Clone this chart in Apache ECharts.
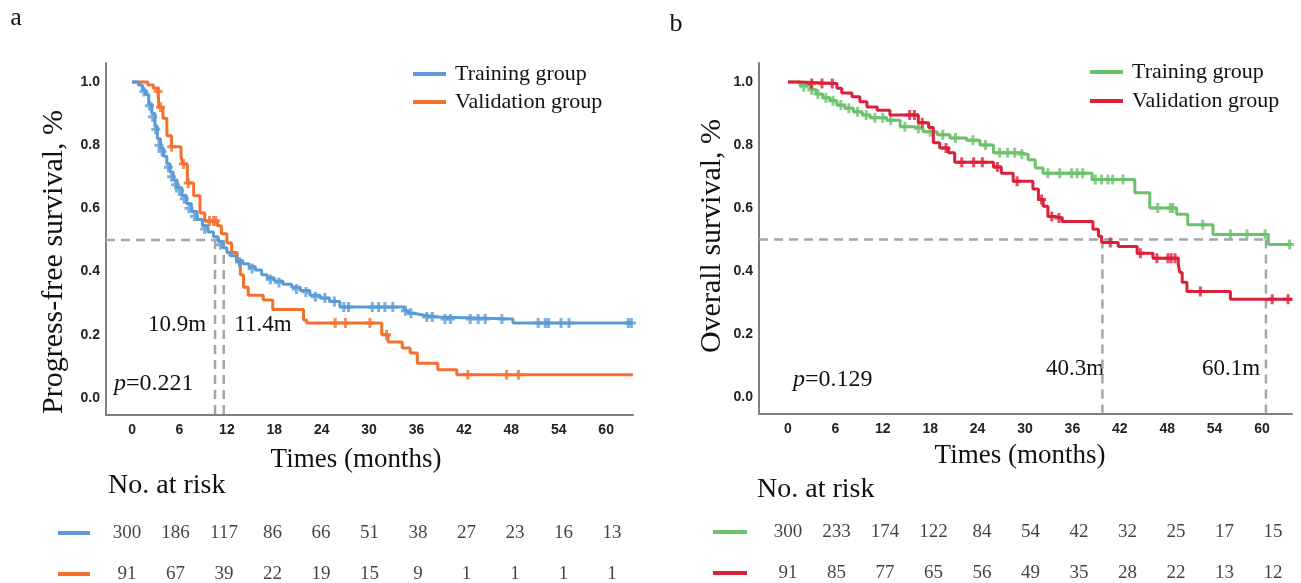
<!DOCTYPE html>
<html>
<head>
<meta charset="utf-8">
<script src="https://cdn.jsdelivr.net/npm/echarts@6/dist/echarts.min.js"></script>
<style>
  html, body { margin: 0; background: #fff; }
  #chart { width: 1301px; height: 583px; }
</style>
</head>
<body>
<div id="chart"></div>
<script>
// ---- data ----
const months = [0, 6, 12, 18, 24, 30, 36, 42, 48, 54, 60];
const yTicks = [0, 0.2, 0.4, 0.6, 0.8, 1.0];

// Kaplan-Meier steps: [month, survival after the step]
const pfsTraining = [[0,1],[0.8,0.99],[1.3,0.975],[1.7,0.96],[2.1,0.93],[2.5,0.9],[2.9,0.86],[3.2,0.82],
  [3.6,0.79],[4.0,0.765],[4.4,0.74],[4.8,0.715],[5.2,0.69],[5.7,0.665],[6.3,0.64],[6.9,0.615],[7.5,0.59],
  [8.2,0.565],[8.9,0.545],[9.6,0.525],[10.3,0.51],[10.9,0.495],[11.5,0.475],[12.0,0.46],[12.4,0.45],
  [13.2,0.435],[14.0,0.425],[14.8,0.415],[15.6,0.405],[16.4,0.39],[17.1,0.38],[18.0,0.37],[19.1,0.36],
  [20.2,0.35],[21.3,0.34],[22.5,0.325],[23.8,0.316],[25.0,0.305],[26.3,0.288],[34.5,0.276],[35.0,0.268],
  [35.6,0.262],[37.0,0.256],[38.8,0.25],[48.2,0.237],[63.3,0.237]];
const pfsValidation = [[0,1],[2.0,0.99],[2.7,0.98],[3.3,0.97],[3.4,0.92],[3.9,0.885],[4.4,0.83],[5.0,0.795],
  [6.2,0.765],[6.4,0.74],[7.0,0.68],[7.8,0.64],[8.6,0.585],[9.2,0.56],[10.8,0.545],[11.3,0.52],[12.0,0.49],
  [12.6,0.46],[13.3,0.43],[13.7,0.39],[14.1,0.35],[14.7,0.325],[16.6,0.31],[17.8,0.28],[21.7,0.247],
  [22.1,0.237],[31.6,0.2],[32.4,0.177],[34.2,0.158],[35.2,0.142],[36.1,0.11],[38.7,0.089],[41.1,0.073],
  [63.4,0.073]];
const osTraining = [[0,1],[1.5,0.99],[2.8,0.975],[3.6,0.962],[4.4,0.95],[5.3,0.94],[6.2,0.927],[7.2,0.916],
  [8.3,0.905],[9.4,0.895],[10.4,0.886],[12.5,0.878],[14.2,0.858],[15.9,0.852],[17.1,0.842],[18.9,0.832],
  [20.5,0.822],[22.6,0.815],[24.3,0.8],[26.0,0.775],[29.4,0.77],[30.4,0.753],[31.3,0.727],[32.3,0.71],
  [38.5,0.69],[43.9,0.648],[45.8,0.6],[49.2,0.58],[50.6,0.547],[53.8,0.516],[60.8,0.484],[63.8,0.484]];
const osValidation = [[0,1],[1.5,0.995],[6.2,0.98],[6.8,0.965],[8.1,0.953],[9.1,0.937],[10.0,0.92],[11.3,0.91],
  [12.9,0.895],[16.5,0.87],[17.8,0.855],[18.4,0.807],[19.2,0.79],[20.3,0.775],[21.1,0.745],[26.0,0.73],
  [27.0,0.71],[28.5,0.685],[31.0,0.66],[31.7,0.627],[32.3,0.605],[32.9,0.573],[33.8,0.568],[34.7,0.557],
  [38.6,0.532],[39.3,0.51],[39.7,0.49],[41.8,0.478],[44.2,0.456],[46.2,0.44],[49.4,0.42],[49.6,0.395],
  [49.9,0.364],[50.5,0.335],[56.0,0.31],[63.8,0.31]];

// censored observations: [month, survival]
const pfsTrainingCensor = [[1.5,0.97],[2.2,0.925],[2.6,0.89],[3.0,0.85],[3.4,0.8],[3.8,0.78],[4.6,0.73],
  [5.0,0.7],[5.5,0.675],[6.0,0.655],[6.6,0.63],[7.2,0.6],[7.9,0.575],[9.2,0.535],[11.2,0.485],[13.6,0.43],
  [15.2,0.41],[17.5,0.375],[18.6,0.365],[20.8,0.345],[22.0,0.335],[23.2,0.32],[24.4,0.316],[25.6,0.305],
  [26.8,0.288],[27.4,0.288],[30.4,0.288],[31.2,0.288],[32.0,0.288],[33.0,0.288],[34.6,0.276],[35.3,0.268],
  [37.3,0.256],[38.0,0.256],[39.6,0.25],[40.3,0.25],[42.8,0.25],[43.8,0.25],[44.7,0.25],[46.8,0.25],
  [51.4,0.237],[52.3,0.237],[52.7,0.237],[54.3,0.237],[55.3,0.237],[62.8,0.237],[63.2,0.237]];
const pfsValidationCensor = [[3.3,0.97],[3.6,0.92],[5.0,0.795],[6.5,0.74],[7.1,0.68],[9.8,0.56],[10.3,0.56],
  [10.6,0.56],[25.7,0.237],[27.0,0.237],[30.1,0.237],[32.2,0.2],[42.5,0.073],[47.4,0.073],[48.9,0.073]];
const osTrainingCensor = [[2.0,0.985],[3.0,0.975],[3.8,0.962],[4.8,0.95],[5.7,0.94],[6.7,0.927],[7.7,0.916],
  [8.8,0.905],[9.9,0.895],[11.0,0.886],[12.0,0.886],[13.0,0.878],[14.8,0.858],[16.5,0.852],[18.0,0.842],
  [19.6,0.832],[21.2,0.822],[23.4,0.815],[25.0,0.8],[26.8,0.775],[27.8,0.775],[28.7,0.775],[29.6,0.77],
  [32.9,0.71],[34.4,0.71],[35.9,0.71],[36.6,0.71],[37.3,0.71],[38.9,0.69],[39.7,0.69],[40.5,0.69],
  [41.1,0.69],[42.4,0.69],[46.8,0.6],[48.4,0.6],[48.7,0.6],[52.5,0.547],[56.0,0.516],[58.1,0.516],
  [60.4,0.516],[63.5,0.484]];
const osValidationCensor = [[3.0,0.995],[4.3,0.995],[5.6,0.995],[15.4,0.895],[16.0,0.895],[17.0,0.87],
  [20.0,0.79],[22.0,0.745],[23.5,0.745],[24.6,0.745],[26.5,0.73],[29.0,0.685],[32.1,0.627],[33.4,0.573],
  [34.3,0.568],[40.8,0.49],[44.6,0.456],[46.7,0.44],[48.1,0.44],[48.5,0.44],[49.0,0.44],[52.2,0.335],
  [61.3,0.31],[63.3,0.31]];

// median guide lines (month positions as drawn)
const pfsMedianLines = [10.5, 11.6];
const osMedianLines = [39.8, 60.5];

// numbers at risk
const riskPfsTraining = [300, 186, 117, 86, 66, 51, 38, 27, 23, 16, 13];
const riskPfsValidation = [91, 67, 39, 22, 19, 15, 9, 1, 1, 1, 1];
const riskOsTraining = [300, 233, 174, 122, 84, 54, 42, 32, 25, 17, 15];
const riskOsValidation = [91, 85, 77, 65, 56, 49, 35, 28, 22, 13, 12];

// ---- styling ----
const SERIF = 'Liberation Serif';
const SANS = 'Liberation Sans';
const C_BLUE = '#5B9BD5', C_ORANGE = '#F4702E', C_GREEN = '#6CC26C', C_RED = '#DC1F3A';
const DASH = '#A6A6A6';
const PLUS = 'path://M3,0H6V3.5H9V6.5H6V10H3V6.5H0V3.5H3Z';

const chart = echarts.init(document.getElementById('chart'));

function plotX(i, min, max) {
  return {
    gridIndex: i, type: 'value', min: min, max: max,
    axisLine: { show: true, onZero: false, lineStyle: { color: '#7F7F7F', width: 2 } },
    axisTick: { show: false }, splitLine: { show: false },
    axisLabel: { customValues: months, margin: 8, fontFamily: SANS, fontWeight: 'bold', fontSize: 14, color: '#222' }
  };
}
function plotY(i) {
  return {
    gridIndex: i, type: 'value', min: -0.054, max: 1.06,
    axisLine: { show: true, onZero: false, lineStyle: { color: '#7F7F7F', width: 2 } },
    axisTick: { show: false }, splitLine: { show: false },
    axisLabel: { customValues: yTicks, formatter: v => v.toFixed(1), margin: 6,
      fontFamily: SANS, fontWeight: 'bold', fontSize: 14, color: '#222' }
  };
}
function hiddenAxis(i, min, max) {
  return { gridIndex: i, type: 'value', min: min, max: max, show: false };
}

function curve(name, data, color, ai, z) {
  return { name: name, type: 'line', step: 'end', xAxisIndex: ai, yAxisIndex: ai, data: data,
    symbol: 'none', lineStyle: { color: color, width: 3 }, itemStyle: { color: color }, z: z, silent: true };
}
function censor(data, color, ai, z) {
  return { type: 'scatter', xAxisIndex: ai, yAxisIndex: ai, data: data, symbol: PLUS,
    symbolSize: [9, 10], itemStyle: { color: color }, z: z, silent: true };
}
function dashed(data, ai) {
  return { type: 'line', xAxisIndex: ai, yAxisIndex: ai, data: data, symbol: 'none', silent: true,
    lineStyle: { color: DASH, width: 2.5, type: [9, 6] }, z: 1 };
}
function riskRow(values, level, ai) {
  return { type: 'scatter', xAxisIndex: ai, yAxisIndex: ai, silent: true,
    data: months.map((m, k) => [m, level, values[k]]),
    symbolSize: 1, itemStyle: { color: 'transparent' },
    label: { show: true, position: 'inside', formatter: p => p.value[2],
      fontFamily: SERIF, fontSize: 19, color: '#111' } };
}

const series = [];
// left panel: PFS
series.push(dashed([[-3.3, 0.5], [pfsMedianLines[1], 0.5]], 0));
pfsMedianLines.forEach(m => series.push(dashed([[m, 0.5], [m, -0.054]], 0)));
series.push(curve('PFS Validation', pfsValidation, C_ORANGE, 0, 3));
series.push(censor(pfsValidationCensor, C_ORANGE, 0, 3));
series.push(curve('PFS Training', pfsTraining, C_BLUE, 0, 4));
series.push(censor(pfsTrainingCensor, C_BLUE, 0, 4));
// right panel: OS
series.push(dashed([[-3.67, 0.5], [osMedianLines[1], 0.5]], 1));
osMedianLines.forEach(m => series.push(dashed([[m, 0.5], [m, -0.054]], 1)));
series.push(curve('OS Training', osTraining, C_GREEN, 1, 3));
series.push(censor(osTrainingCensor, C_GREEN, 1, 3));
series.push(curve('OS Validation', osValidation, C_RED, 1, 4));
series.push(censor(osValidationCensor, C_RED, 1, 4));
// risk tables
series.push(riskRow(riskPfsTraining, 1, 2), riskRow(riskPfsValidation, 0, 2));
series.push(riskRow(riskOsTraining, 1, 3), riskRow(riskOsValidation, 0, 3));

const legendName = n => n.indexOf('Training') >= 0 ? 'Training group' : 'Validation group';
const legendBase = {
  orient: 'vertical', icon: 'rect', itemWidth: 33, itemHeight: 4, selectedMode: false,
  formatter: legendName,
  textStyle: { fontFamily: SERIF, fontSize: 22, color: '#111', padding: [0, 0, 0, 4] }
};

function txt(x, y, text, size, extra) {
  return { type: 'text', x: x, y: y, silent: true,
    style: Object.assign({ text: text, fontFamily: SERIF, fontSize: size, fill: '#111',
      align: 'center', verticalAlign: 'middle' }, extra || {}) };
}
function keyLine(x1, x2, y, color) {
  return { type: 'line', silent: true, shape: { x1: x1, y1: y, x2: x2, y2: y },
    style: { stroke: color, lineWidth: 4 } };
}
const pRich = { i: { fontFamily: SERIF, fontStyle: 'italic', fontSize: 24, fill: '#111' },
  n: { fontFamily: SERIF, fontSize: 24, fill: '#111' } };

const yTitleLeft = txt(54, 262, 'Progress-free survival, %', 30);
const yTitleRight = txt(712, 236, 'Overall survival, %', 30);
yTitleLeft.rotation = Math.PI / 2;
yTitleRight.rotation = Math.PI / 2;

const option = {
  animation: false,
  backgroundColor: '#fff',
  grid: [
    { left: 106, top: 63, width: 527, height: 352 },
    { left: 759, top: 63, width: 533, height: 351 },
    { left: 127, top: 533, width: 485, height: 41 },
    { left: 788, top: 532, width: 485, height: 41 }
  ],
  xAxis: [plotX(0, -3.3, 63.4), plotX(1, -3.67, 63.8), hiddenAxis(2, 0, 60), hiddenAxis(3, 0, 60)],
  yAxis: [plotY(0), plotY(1), hiddenAxis(2, 0, 1), hiddenAxis(3, 0, 1)],
  legend: [
    Object.assign({ data: ['PFS Training', 'PFS Validation'], left: 408, top: 58, itemGap: 6 }, legendBase),
    Object.assign({ data: ['OS Training', 'OS Validation'], left: 1085, top: 56, itemGap: 7 }, legendBase)
  ],
  series: series,
  graphic: [
    txt(16, 18, 'a', 26),
    txt(676, 24, 'b', 26),
    yTitleLeft,
    yTitleRight,
    txt(356, 460, 'Times (months)', 27),
    txt(1020, 456, 'Times (months)', 27),
    txt(177, 325, '10.9m', 23),
    txt(263, 325, '11.4m', 23),
    txt(1075, 369, '40.3m', 23),
    txt(1231, 369, '60.1m', 23),
    { type: 'text', x: 114, y: 384, silent: true,
      style: { text: '{i|p}{n|=0.221}', rich: pRich, verticalAlign: 'middle', align: 'left' } },
    { type: 'text', x: 793, y: 380, silent: true,
      style: { text: '{i|p}{n|=0.129}', rich: pRich, verticalAlign: 'middle', align: 'left' } },
    txt(108, 486, 'No. at risk', 28, { align: 'left' }),
    txt(757, 490, 'No. at risk', 28, { align: 'left' }),
    keyLine(58, 90, 533, C_BLUE),
    keyLine(58, 90, 574, C_ORANGE),
    keyLine(713, 747, 532, C_GREEN),
    keyLine(713, 747, 573, C_RED)
  ]
};

chart.setOption(option);
</script>
</body>
</html>
